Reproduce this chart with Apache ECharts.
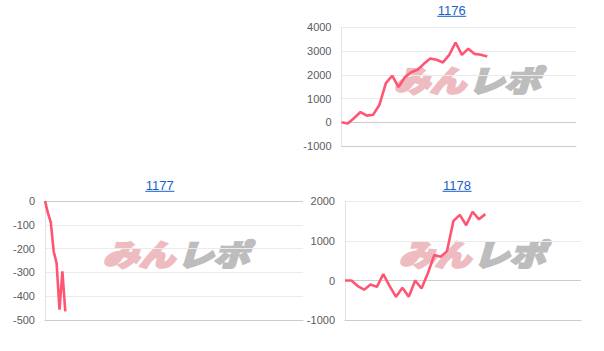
<!DOCTYPE html>
<html>
<head>
<meta charset="utf-8">
<script src="https://cdn.jsdelivr.net/npm/echarts@6/dist/echarts.min.js"></script>
<style>
html,body{margin:0;padding:0;background:#fff;}
#c{width:604px;height:351px;}
</style>
</head>
<body>
<div id="c"></div>
<script>
// ---- data ----
const titles = ['1176', '1177', '1178'];
const vals1176 = [0, -50, 180, 430, 280, 320, 740, 1650, 1960, 1480, 1900, 2110, 2210, 2460, 2690, 2630, 2520, 2840, 3360, 2840, 3100, 2880, 2840, 2770];
const vals1177 = [0, -50, -90, -212, -261, -457, -296, -464];
const vals1178 = [0, 0, -140, -230, -100, -160, 160, -140, -410, -180, -410, 0, -200, 190, 640, 600, 740, 1500, 1650, 1390, 1730, 1540, 1670];
const yTicks1176 = [-1000, 0, 1000, 2000, 3000, 4000];
const yTicks1177 = [-500, -400, -300, -200, -100, 0];
const yTicks1178 = [-1000, 0, 1000, 2000];
// number of x slots on each (hidden) x axis
const slots1176 = 38, slots1177 = 90, slots1178 = 38;
const watermark = ['みん', 'レポ'];

function slots(n) { return Array.from({length: n}, (_, i) => String(i + 1)); }

const panels = [
  {title: titles[0], vals: vals1176, ticks: yTicks1176, n: slots1176,
   grid: {left: 341.5, top: 27.3, width: 234.5, height: 118.7}, tx: 451.7, ty: 10.5, wm: [467, 79]},
  {title: titles[1], vals: vals1177, ticks: yTicks1177, n: slots1177,
   grid: {left: 45, top: 201, width: 258, height: 119}, tx: 159.8, ty: 185.5, wm: [176, 253]},
  {title: titles[2], vals: vals1178, ticks: yTicks1178, n: slots1178,
   grid: {left: 345, top: 201, width: 236, height: 119.3}, tx: 457, ty: 185.5, wm: [472, 253]}
];

const LINE = '#ff5575';
const option = {
  animation: false,
  grid: [], xAxis: [], yAxis: [], series: [], graphic: []
};

const WMFONT = 'italic 900 30px "Noto Sans CJK JP", sans-serif';

panels.forEach((p, i) => {
  option.grid.push(Object.assign({containLabel: false}, p.grid));
  option.xAxis.push({
    type: 'category', gridIndex: i, boundaryGap: false, data: slots(p.n),
    axisLabel: {show: false}, axisTick: {show: false},
    axisLine: {show: true, onZero: false, lineStyle: {color: '#cccccc', width: 1}},
    splitLine: {show: false}
  });
  const mn = Math.min(...p.ticks), mx = Math.max(...p.ticks);
  option.yAxis.push({
    type: 'value', gridIndex: i, min: mn, max: mx, interval: p.ticks[1] - p.ticks[0],
    axisLabel: {color: '#5c5c5c', fontSize: 11, margin: 10, fontFamily: 'Arial, "Liberation Sans", sans-serif',
      formatter: v => String(v)},
    axisTick: {show: false},
    axisLine: {show: true, lineStyle: {color: '#e3e3e3'}},
    splitLine: {show: true, lineStyle: {color: '#ebebeb', width: 1}}
  });
  option.series.push({
    type: 'line', xAxisIndex: i, yAxisIndex: i, data: p.vals,
    showSymbol: false, symbol: 'none', z: 5,
    lineStyle: {color: LINE, width: 2.6},
    markLine: {silent: true, symbol: 'none', label: {show: false},
      lineStyle: {color: '#cccccc', type: 'solid', width: 1}, data: [{yAxis: 0}]}
  });
  // title (link style)
  option.graphic.push({
    type: 'text', x: p.tx, y: p.ty, z: 10,
    style: {text: p.title, fill: '#1a5fc8', font: '13px Arial, "Liberation Sans", sans-serif',
      textAlign: 'center', textVerticalAlign: 'middle'}
  });
  option.graphic.push({
    type: 'line', z: 10,
    shape: {x1: p.tx - 14.5, y1: p.ty + 5.8, x2: p.tx + 14.5, y2: p.ty + 5.8},
    style: {stroke: '#1a5fc8', lineWidth: 1}
  });
  // watermark
  option.graphic.push({
    type: 'group', x: p.wm[0], y: p.wm[1], scaleX: 1.2, z: 1,
    children: [
      {type: 'text', x: -1, y: 0, style: {text: watermark[0], fill: '#eebcc0', stroke: '#eebcc0', lineWidth: 2.2,
        font: WMFONT, textAlign: 'right', textVerticalAlign: 'middle'}},
      {type: 'text', x: 1, y: 0, style: {text: watermark[1], fill: '#bdbdbd', stroke: '#bdbdbd', lineWidth: 2.2,
        font: WMFONT, textAlign: 'left', textVerticalAlign: 'middle'}}
    ]
  });
});

const chart = echarts.init(document.getElementById('c'), null, {renderer: 'svg'});
chart.setOption(option);
</script>
</body>
</html>
